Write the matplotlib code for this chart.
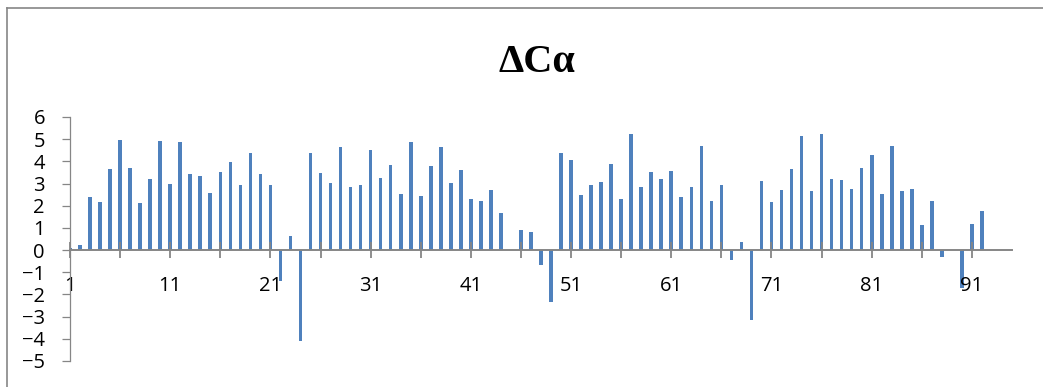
import matplotlib
matplotlib.use("Agg")
import matplotlib.pyplot as plt
from matplotlib.lines import Line2D

# values, one per residue
residue = list(range(1, 93))
delta_ca = [
    0.10, 0.23, 2.41, 2.17, 3.65, 4.98, 3.71, 2.11, 3.20, 4.92,
    2.98, 4.89, 3.44, 3.35, 2.57, 3.52, 3.98, 2.93, 4.39, 3.43,
    2.95, -1.38, 0.62, -4.08, 4.39, 3.49, 3.02, 4.65, 2.86, 2.93,
    4.50, 3.25, 3.83, 2.54, 4.89, 2.42, 3.80, 4.65, 3.02, 3.59,
    2.32, 2.20, 2.69, 1.65, 0.00, 0.90, 0.83, -0.69, -2.36, 4.38,
    4.06, 2.50, 2.93, 3.08, 3.89, 2.30, 5.25, 2.86, 3.53, 3.19,
    3.58, 2.38, 2.86, 4.70, 2.21, 2.92, -0.44, 0.35, -3.13, 3.13,
    2.18, 2.69, 3.67, 5.16, 2.68, 5.25, 3.22, 3.17, 2.75, 3.68,
    4.29, 2.54, 4.71, 2.66, 2.77, 1.13, 2.20, -0.33, 0.00, -1.73,
    1.17, 1.76,
]
x_labels = list(range(1, 92, 10))
y_ticks = list(range(-5, 7))

bar_color = "#4F81BD"
axis_gray = "#868686"

fig = plt.figure(figsize=(10.43, 3.87), dpi=100)
ax = fig.add_axes([70 / 1043, 1 - 361 / 387, 942 / 1043, 244 / 387])

ax.bar(residue, delta_ca, width=0.36, color=bar_color, linewidth=0)

# x axis sits on y=0 like Excel
ax.spines["bottom"].set_position(("data", 0))
ax.spines["bottom"].set_color(axis_gray)
ax.spines["bottom"].set_linewidth(1.4)
ax.spines["left"].set_color(axis_gray)
ax.spines["left"].set_linewidth(0.9)
ax.spines["top"].set_visible(False)
ax.spines["right"].set_visible(False)

ax.set_xticks(x_labels)
ax.set_xticklabels([str(v) for v in x_labels])
ax.set_xticks([v + 5 for v in x_labels[:-1]], minor=True)
ax.tick_params(axis="x", which="both", direction="inout", length=11,
               width=1.3, color=axis_gray, pad=13, labelsize=14.5)
ax.set_yticks(y_ticks)
ax.tick_params(axis="y", direction="out", length=6, width=0.9,
               color=axis_gray, pad=12, labelsize=14.5)
for lab in ax.get_xticklabels() + ax.get_yticklabels():
    lab.set_fontfamily("Open Sans")

ax.set_xlim(1, 95)
ax.set_ylim(-5, 6)

fig.text(537 / 1043, 1 - 62 / 387, "ΔCα", ha="center", va="center",
         fontsize=29, fontweight="bold", family="Liberation Serif")

# chart area border (left and top edges visible)
fig.add_artist(Line2D([7 / 1043, 7 / 1043], [0, 1 - 8 / 387],
                      transform=fig.transFigure, color=axis_gray, lw=1.2))
fig.add_artist(Line2D([7 / 1043, 1], [1 - 8 / 387, 1 - 8 / 387],
                      transform=fig.transFigure, color=axis_gray, lw=1.2))

fig.savefig("out.png", dpi=100)
